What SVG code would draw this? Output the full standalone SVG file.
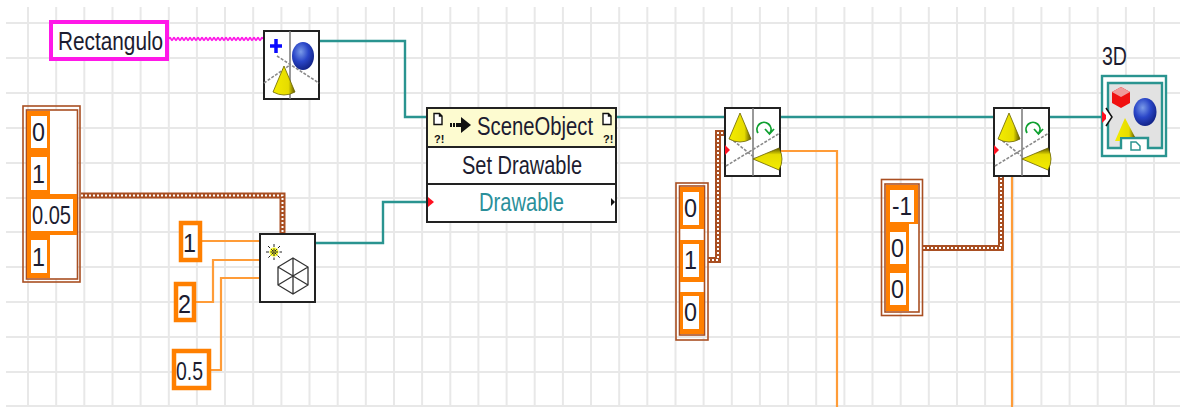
<svg xmlns="http://www.w3.org/2000/svg" xmlns:xlink="http://www.w3.org/1999/xlink" width="1180" height="407" viewBox="0 0 1180 407">
<style>
text{font-family:"Liberation Sans",Arial,sans-serif;fill:#1c1c30;font-size:26px}
.g{stroke:#e8e8e8;stroke-width:2;fill:none}
.frame{fill:#fff;stroke:#222;stroke-width:2}
.k{fill:#fff;stroke:#ff7f00;stroke-width:4.5}
.or{fill:#ff7f00}
.wt{fill:#fff}
.br{fill:none;stroke:#a94f22;stroke-width:1.6}
.tw{fill:none;stroke:#2a9490;stroke-width:2.4}
.ow{fill:none;stroke:#ff9c38;stroke-width:2.2}
.bw{fill:none;stroke:#a94f22;stroke-width:6}
.bd{fill:none;stroke:#fff;stroke-width:2;stroke-dasharray:2 2}
.dg{stroke:#8a8a8a;stroke-width:1.6;stroke-dasharray:3 1.5;fill:none}
.vl{stroke:#777;stroke-width:1.5}
.bg{fill:#fff}
</style>
<defs>
<linearGradient id="cone" x1="0" x2="1" y1="0" y2="0"><stop offset="0" stop-color="#f4ec00"/><stop offset=".7" stop-color="#e6dc00"/><stop offset="1" stop-color="#5d5600"/></linearGradient>
<radialGradient id="ball" cx=".4" cy=".35" r=".7"><stop offset="0" stop-color="#7a9be8"/><stop offset=".5" stop-color="#2a46c8"/><stop offset="1" stop-color="#101f80"/></radialGradient>
<path id="conep" d="M0 0 L-11 26 Q0 32 11 26 Z" fill="url(#cone)" stroke="#6a6200" stroke-width=".8"/>
<g id="doc"><path d="M-4 -5.500 H1.500 L4 -3 V5.500 H-4 Z M1.500 -5.500 V-3 H4" fill="#fff" stroke="#111" stroke-width="1.400"/></g>
<g id="rot">
<rect class="frame" x="0" y="0" width="55" height="68"/>
<line class="vl" x1="28" y1="0" x2="28" y2="68"/>
<path class="dg" d="M1 58 L55 25 M5 30 L30 50"/>
<use xlink:href="#conep" x="15" y="5"/>
<use xlink:href="#conep" transform="translate(28 51) rotate(-90)"/>
<path d="M33 26 A7 7 0 1 1 45 26 M40 22 L44.500 27 L49 22" transform="translate(0 -1)" fill="none" stroke="#0fa030" stroke-width="1.800"/>
<path d="M0 37 L5 42 L0 47 Z" fill="#ff1020"/>
</g>
</defs>
<rect width="1180" height="407" class="bg"/>
<g id="grid">
<path class="g" d="M6 23H1180M6 58H1180M6 93H1180M6 128H1180M6 163H1180M6 198H1180M6 232H1180M6 267H1180M6 302H1180M6 337H1180M6 372H1180M6 406H1180"/>
<path class="g" d="M28 7V407M56.200 7V407M84.300 7V407M112.500 7V407M140.600 7V407M168.800 7V407M196.900 7V407M225 7V407M253.200 7V407M281.400 7V407M309.500 7V407M337.700 7V407M365.800 7V407M394 7V407M422.100 7V407M450.300 7V407M478.400 7V407M506.600 7V407M534.700 7V407M562.900 7V407M591 7V407M619.200 7V407M647.300 7V407M675.500 7V407M703.600 7V407M731.800 7V407M759.900 7V407M788.100 7V407M816.200 7V407M844.400 7V407M872.500 7V407M900.700 7V407M928.800 7V407M957 7V407M985.100 7V407M1013.300 7V407M1041.400 7V407M1069.600 7V407M1097.700 7V407M1125.900 7V407M1154 7V407"/>
</g>
<g id="connectors">
<path fill="none" stroke="#ff18e8" stroke-width="1.800" d="M169 39 q1 -2.500 2 0 t2 0 t2 0 t2 0 t2 0 t2 0 t2 0 t2 0 t2 0 t2 0 t2 0 t2 0 t2 0 t2 0 t2 0 t2 0 t2 0 t2 0 t2 0 t2 0 t2 0 t2 0 t2 0 t2 0 t2 0 t2 0 t2 0 t2 0 t2 0 t2 0 t2 0 t2 0 t2 0 t2 0 t2 0 t2 0 t2 0 t2 0 t2 0 t2 0 t2 0 t2 0 t2 0 t2 0 t2 0 t2 0 t2 0"/>
<path class="tw" d="M319 41H405V117H427M610 117H725M780 117H994M1049 117H1102M315 243H383V202H428"/>
<path class="ow" d="M201 241H260M196 302H213V260H260M210 370H221V278H260M780 151H837V407M1012 176V407"/>
<path class="bw" d="M81 195.500H282.500V234M708 260H718V133H725M923 248H1001V176"/>
<path class="bd" d="M81 195.500H282.500V234M708 260H718V133H725M923 248H1001V176"/>
</g>
<g id="n-rectangulo">
<rect x="51" y="22" width="116" height="37" fill="#fff" stroke="#ff18e8" stroke-width="4"/>
<text transform="translate(58 50) scale(.8 1)" style="font-size:26px">Rectangulo</text>
</g>
<g id="n-create">
<rect class="frame" x="264" y="31" width="55" height="68"/>
<line class="vl" x1="290" y1="31" x2="290" y2="99"/>
<path class="dg" d="M277 56 L319 83 M264 83 L290 65"/>
<path d="M270 46H282M276 39V53" stroke="#0a0aff" stroke-width="3.500" fill="none"/>
<ellipse cx="303" cy="56" rx="11" ry="14" fill="url(#ball)"/>
<use xlink:href="#conep" x="284" y="66"/>
</g>
<g id="n-cluster1">
<rect class="br" x="23" y="106" width="57" height="176"/>
<rect x="26.500" y="110" width="51" height="169" fill="#fff" stroke="#a94f22" stroke-width="1.600"/>
<rect class="or" x="27" y="111" width="23" height="167"/>
<rect class="or" x="27" y="194" width="50" height="41"/>
<rect class="wt" x="31" y="116" width="16" height="32"/>
<rect class="wt" x="31" y="157" width="16" height="33"/>
<rect class="wt" x="31" y="199" width="42" height="32"/>
<rect class="wt" x="31" y="240" width="16" height="33"/>
<text x="32" y="141" textLength="13" lengthAdjust="spacingAndGlyphs">0</text>
<text x="32" y="183" textLength="13" lengthAdjust="spacingAndGlyphs">1</text>
<text x="32" y="224" textLength="39" lengthAdjust="spacingAndGlyphs">0.05</text>
<text x="32" y="266" textLength="13" lengthAdjust="spacingAndGlyphs">1</text>
</g>
<g id="n-const1">
<rect class="k" x="181" y="223" width="19" height="37"/>
<text x="183" y="252" textLength="13" lengthAdjust="spacingAndGlyphs">1</text>
</g>
<g id="n-const2">
<rect class="k" x="176" y="284" width="18" height="36"/>
<text x="178" y="313" textLength="13" lengthAdjust="spacingAndGlyphs">2</text>
</g>
<g id="n-const3">
<rect class="k" x="174" y="351" width="35" height="37"/>
<text x="176" y="380" textLength="27" lengthAdjust="spacingAndGlyphs">0.5</text>
</g>
<g id="n-cube">
<rect class="frame" x="260" y="234" width="55" height="68"/>
<circle cx="274" cy="252" r="4.500" fill="#ffff30"/>
<path d="M266 252H282M274 244V260M268 246L280 258M280 246L268 258" stroke="#222" stroke-width="1" stroke-dasharray="3 1.500" fill="none"/>
<path d="M293 258L308 267V285L293 294L278 285V267Z M293 258V294 M278 267L308 285 M308 267L278 285" fill="none" stroke="#333" stroke-width="1.300"/>
</g>
<g id="n-scene">
<rect x="427" y="108" width="189" height="114" fill="#fff" stroke="#222" stroke-width="2"/>
<rect x="428" y="109" width="187" height="38" fill="#fdfbd0"/>
<path d="M427 147H616M427 184H616" stroke="#222" stroke-width="2" fill="none"/>
<use xlink:href="#doc" x="438" y="119"/>
<use xlink:href="#doc" x="607" y="119"/>
<text x="434" y="143" style="font-size:11px;font-weight:bold;fill:#111">?!</text>
<text x="603" y="143" style="font-size:11px;font-weight:bold;fill:#111">?!</text>
<path d="M450 125h2m1 0h2m1 0h5" stroke="#111" stroke-width="4" fill="none"/>
<path d="M461 117L471 125L461 133Z" fill="#111"/>
<text transform="translate(477 135) scale(.78 1)" style="font-size:26px">SceneObject</text>
<text x="462" y="174" textLength="120" lengthAdjust="spacingAndGlyphs">Set Drawable</text>
<text x="479" y="211" textLength="85" lengthAdjust="spacingAndGlyphs" style="fill:#2a8f9a">Drawable</text>
<path d="M428 197L434 202L428 207Z" fill="#ff1020"/>
<path d="M611 198L615 202L611 206Z" fill="#111"/>
</g>
<g id="n-rotate1"><use xlink:href="#rot" x="725" y="108"/></g>
<g id="n-cluster2">
<rect class="br" x="676" y="183" width="32" height="157"/>
<rect x="679.500" y="186" width="25" height="149" fill="#fff" stroke="#a94f22" stroke-width="1.600"/>
<rect class="or" x="680" y="187" width="24" height="42"/>
<rect class="or" x="680" y="240" width="24" height="42"/>
<rect class="or" x="680" y="292" width="24" height="42"/>
<rect class="wt" x="683" y="192" width="16" height="33"/>
<rect class="wt" x="683" y="244" width="16" height="33"/>
<rect class="wt" x="683" y="296" width="16" height="33"/>
<text x="684" y="217" textLength="13" lengthAdjust="spacingAndGlyphs">0</text>
<text x="684" y="269" textLength="13" lengthAdjust="spacingAndGlyphs">1</text>
<text x="684" y="321" textLength="13" lengthAdjust="spacingAndGlyphs">0</text>
</g>
<g id="n-rotate2"><use xlink:href="#rot" x="994" y="108"/></g>
<g id="n-cluster3">
<rect class="br" x="881.500" y="179.500" width="41" height="136"/>
<rect x="885" y="184" width="34" height="128" fill="#fff" stroke="#a94f22" stroke-width="1.600"/>
<rect class="or" x="886" y="185" width="32" height="39"/>
<rect class="or" x="886" y="185" width="23" height="126"/>
<rect class="wt" x="890" y="190" width="24" height="32"/>
<rect class="wt" x="890" y="232" width="16" height="32"/>
<rect class="wt" x="890" y="273" width="16" height="32"/>
<text x="892" y="215" textLength="20" lengthAdjust="spacingAndGlyphs">-1</text>
<text x="891" y="257" textLength="13" lengthAdjust="spacingAndGlyphs">0</text>
<text x="891" y="298" textLength="13" lengthAdjust="spacingAndGlyphs">0</text>
</g>
<g id="n-3d">
<text x="1102" y="65" textLength="25" lengthAdjust="spacingAndGlyphs">3D</text>
<rect x="1102" y="76" width="64" height="80" fill="#fff" stroke="#2a9490" stroke-width="2.400"/>
<path d="M1108 83H1162V148H1148V138H1121V148H1108Z" fill="#e2e2e2" stroke="#2a9490" stroke-width="2.400"/>
<path d="M1112 92L1121 87L1130 92V103L1121 108L1112 103Z" fill="#f01010"/>
<path d="M1112 92L1121 87L1130 92L1121 97Z" fill="#f09a9a"/>
<ellipse cx="1145" cy="112" rx="11.500" ry="14" fill="url(#ball)"/>
<path d="M1125 118L1115 141H1120V137H1135Z" fill="url(#cone)"/>
<path d="M1131 150V142H1136L1140 146V150Z" fill="#fff" stroke="#2a9490" stroke-width="1.500"/>
<path d="M1102 111L1108 117L1102 123Z" fill="#ff1020"/>
<path d="M1106 108L1112 117L1106 126" fill="#fff" stroke="#111" stroke-width="1.500"/>
</g>
</svg>
